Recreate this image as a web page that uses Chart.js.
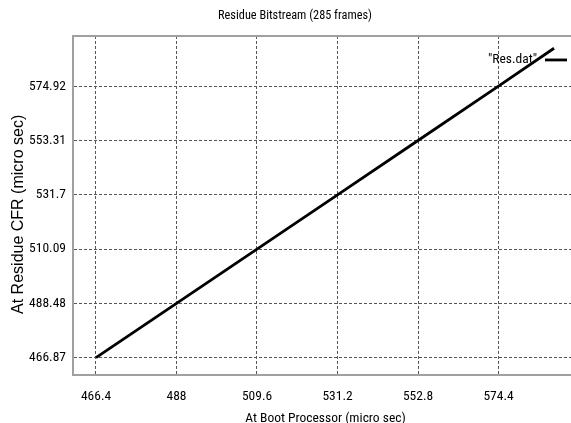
<!DOCTYPE html>
<html><head><meta charset="utf-8">
<script src="https://cdn.jsdelivr.net/npm/chart.js@4/dist/chart.umd.min.js"></script>
<style>
html,body{margin:0;padding:0;background:#fff}
#wrap{width:571px;height:423px;overflow:hidden;position:relative}
#c{display:block}
</style>
</head><body>
<div id="wrap"><canvas id="c" width="578" height="423" style="width:578px;height:423px"></canvas></div>
<script>
// ---- data ----
const bootTimes = [466.4, 488, 509.6, 531.2, 552.8, 574.4, 589.3];
const cfrTimes  = [466.87, 488.48, 510.09, 531.7, 553.31, 574.92, 590.0];
const xTickValues = [466.4, 488, 509.6, 531.2, 552.8, 574.4];
const yTickValues = [466.87, 488.48, 510.09, 531.7, 553.31, 574.92];
const seriesLabel = '"Res.dat"';
const chartTitle = 'Residue Bitstream (285 frames)';
const xTitle = 'At Boot Processor (micro sec)';
const yTitle = 'At Residue CFR (micro sec)';

const FAM = "'Roboto Condensed', 'DejaVu Sans Condensed', 'Liberation Sans', Arial, sans-serif";
const FAM_V = "'Liberation Sans', Arial, sans-serif";

const points = bootTimes.map((x, i) => ({x, y: cfrTimes[i]}));

const framePlugin = {
  id: 'frame',
  beforeDatasetsDraw(chart) {
    const {ctx, chartArea} = chart;
    ctx.save();
    ctx.strokeStyle = '#a0a0a0';
    ctx.lineWidth = 2;
    ctx.beginPath();
    ctx.moveTo(chartArea.left - 1, chartArea.top);
    ctx.lineTo(chartArea.right, chartArea.top);
    ctx.stroke();
    ctx.restore();
  },
  afterDatasetsDraw(chart) {
    const {ctx, chartArea} = chart;
    const ds = chart.data.datasets[0];
    const y = chartArea.top + 24;
    const sampleEnd = chartArea.right - 11;
    const sampleStart = sampleEnd - 22;
    ctx.save();
    ctx.font = '13.5px ' + FAM;
    ctx.fillStyle = '#000';
    ctx.textAlign = 'right';
    ctx.textBaseline = 'middle';
    ctx.fillText(ds.label, sampleStart - 8, y);
    ctx.strokeStyle = ds.borderColor;
    ctx.lineWidth = ds.borderWidth;
    ctx.beginPath();
    ctx.moveTo(sampleStart, y);
    ctx.lineTo(sampleEnd, y);
    ctx.stroke();
    ctx.restore();
  }
};

new Chart(document.getElementById('c'), {
  type: 'line',
  data: {
    datasets: [{
      label: seriesLabel,
      data: points,
      borderColor: '#000',
      borderWidth: 2.8,
      pointRadius: 0,
      tension: 0,
      fill: false
    }]
  },
  options: {
    responsive: false,
    devicePixelRatio: 1,
    animation: false,
    layout: {padding: {left: 12, right: 0, top: 0, bottom: 0}},
    plugins: {
      legend: {display: false},
      tooltip: {enabled: false},
      title: {
        display: true,
        text: chartTitle,
        color: '#000',
        font: {family: FAM, size: 12.3, weight: 'normal'},
        padding: {top: 8.5, bottom: 12.7}
      }
    },
    scales: {
      x: {
        type: 'linear',
        min: 460.23,
        max: 595.73,
        afterBuildTicks: s => { s.ticks = xTickValues.map(v => ({value: v})); },
        afterFit: s => { s.height = 48; },
        ticks: {
          color: '#000',
          font: {family: FAM, size: 13.5},
          padding: 14,
          autoSkip: false,
          maxRotation: 0,
          callback: v => String(v)
        },
        grid: {color: '#555', lineWidth: 1, drawTicks: false},
        border: {display: true, color: '#a0a0a0', width: 2, dash: [3, 2]},
        title: {
          display: true,
          text: xTitle,
          color: '#000',
          font: {family: FAM, size: 13.5, lineHeight: 1},
          padding: {top: 0, bottom: -2.5}
        }
      },
      y: {
        type: 'linear',
        min: 459.99,
        max: 594.9,
        afterBuildTicks: s => { s.ticks = yTickValues.map(v => ({value: v})); },
        afterFit: s => { s.width = 61; },
        ticks: {
          color: '#000',
          font: {family: FAM, size: 13.5},
          padding: 7,
          autoSkip: false,
          callback: v => String(v)
        },
        grid: {color: '#555', lineWidth: 1, drawTicks: false},
        border: {display: true, color: '#a0a0a0', width: 2, dash: [3, 2]},
        title: {
          display: true,
          text: yTitle + '    ',
          color: '#000',
          font: {family: FAM_V, size: 16},
          padding: {top: -3, bottom: 0}
        }
      }
    }
  },
  plugins: [framePlugin]
});
</script>
</body></html>
